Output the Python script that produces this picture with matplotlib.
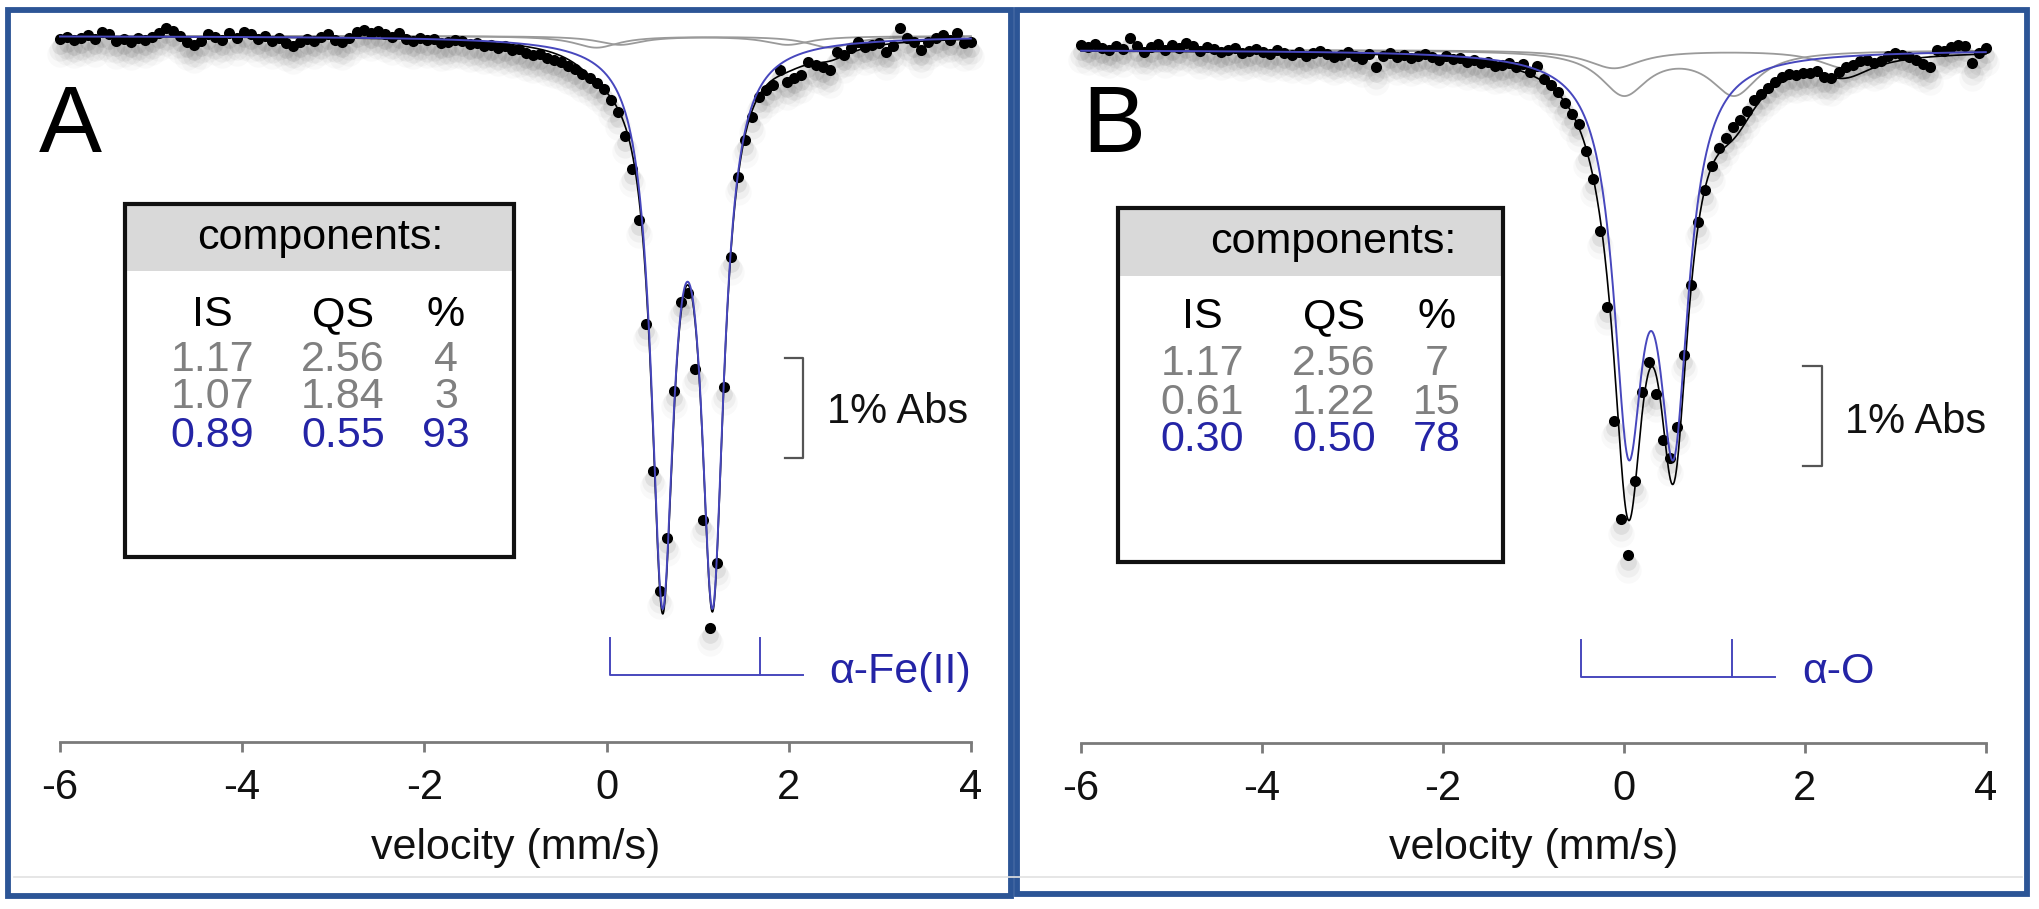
import numpy as np
import matplotlib
matplotlib.use('Agg')
import matplotlib.pyplot as plt
from matplotlib.patches import Rectangle
from matplotlib.transforms import offset_copy

plt.rcParams['font.family'] = ['Liberation Sans', 'DejaVu Sans']
plt.rcParams['axes.unicode_minus'] = False

# channel grid of the spectra (mm/s)
v_start, v_stop, n_chan = -6.0, 4.0, 130

abs_a = [0.03, 0.01, 0.04, 0.02, -0.01, 0.03,
         -0.04, -0.02,
         0.05, 0.03, 0.06, 0.02, 0.04,
         0.01, -0.03, -0.08, -0.05, 0.00,
         0.06, 0.09, 0.05,
         -0.02, 0.01, 0.04, -0.03, 0.02, -0.04,
         -0.02, 0.03, 0.00, 0.05,
         0.02, 0.07, 0.10, 0.06, 0.03, 0.05,
         0.01, -0.02, 0.04, 0.06,
         0.02, -0.04, -0.06, -0.03, -0.05,
         -0.02, 0.01, -0.03, 0.03, 0.05,
         0.02, 0.04, 0.03, 0.07, 0.06,
         0.04, 0.05, 0.08, 0.07, 0.10,
         0.09, 0.12, 0.10, 0.14, 0.13, 0.17,
         0.19, 0.18, 0.22, 0.24, 0.26, 0.30,
         0.33, 0.38, 0.42, 0.47, 0.53, 0.64, 0.76, 1.00, 1.33, 1.84, 2.88,
         4.35, 5.55, 5.02, 3.55, 2.66, 2.57, 3.33, 4.84, 5.92, 5.27, 3.51, 2.21, 1.41, 1.04,
         0.81, 0.61, 0.54, 0.49, 0.34, 0.46, 0.42, 0.39, 0.26, 0.29, 0.31, 0.34,
         0.16, 0.19, 0.12, 0.06, 0.11, 0.09, 0.07, 0.16, 0.10, -0.08,
         0.02, 0.06, 0.14, 0.06, 0.02, -0.01, 0.04, -0.03, 0.07, 0.06]

abs_b = [-0.05, -0.03, -0.06, -0.02, 0.00, -0.04,
         -0.01, -0.12, -0.04, 0.02, -0.03,
         -0.06, 0.00, -0.05, -0.02, -0.07,
         -0.04, 0.01, -0.03, -0.01, 0.02,
         0.00, -0.02, 0.03, 0.01, -0.01,
         0.02, 0.04, 0.00, 0.03, 0.05,
         0.02, 0.06, 0.03, 0.01, 0.04,
         0.07, 0.05, 0.02, 0.06, 0.09,
         0.04, 0.17, 0.06, 0.03, 0.07,
         0.05, 0.08, 0.06, 0.04, 0.07,
         0.10, 0.06, 0.09, 0.08, 0.12,
         0.10, 0.13, 0.12, 0.16, 0.15,
         0.13, 0.17,
         0.14, 0.22, 0.16, 0.29, 0.35, 0.42, 0.53, 0.64, 0.74, 1.01,
         1.29, 1.81, 2.57, 3.71, 4.69, 5.05, 4.31, 3.42, 3.12, 3.44,
         3.90, 4.08, 3.77, 3.05, 2.35, 1.72, 1.40, 1.16, 0.98, 0.88,
         0.77, 0.70, 0.61, 0.50, 0.44, 0.38, 0.32, 0.27, 0.24,
         0.25, 0.23, 0.23, 0.21, 0.27, 0.28, 0.22, 0.17, 0.15, 0.11,
         0.10, 0.13, 0.11, 0.06, 0.03, 0.05, 0.07, 0.10, 0.14, 0.17,
         0.00, 0.01, -0.03, -0.05, -0.04, 0.13, 0.03, -0.02]

# fit components (table values) + half widths / total area
is_a = [1.17, 1.07, 0.89]
qs_a = [2.56, 1.84, 0.55]
pct_a = [4, 3, 93]
hwhm_a = [0.30, 0.30, 0.15]
area_a = 5.43

is_b = [1.17, 0.61, 0.30]
qs_b = [2.56, 1.22, 0.50]
pct_b = [7, 15, 78]
hwhm_b = [0.36, 0.32, 0.20]
area_b = 5.8

# reference doublet markers
bracket_a = (0.04, 1.68)
bracket_b = (-0.47, 1.20)
ticks = [-6, -4, -2, 0, 2, 4]

W, H = 2040, 909
BLUE_LINE = '#4747BD'
BLUE_TXT = '#2424A6'
GRAY_TXT = '#808080'
FRAME = '#2C5596'


def doublet(v, i_s, q_s, pct, g, area):
    amp = pct / 100 * area / 2
    out = np.zeros_like(v)
    for c in (i_s - q_s / 2, i_s + q_s / 2):
        out += amp * g / np.pi / ((v - c) ** 2 + g ** 2)
    return out


def fx(px):
    return px / W


def fy(py):
    return 1 - py / H


fig = plt.figure(figsize=(W / 100, H / 100), dpi=100)
vel = np.linspace(v_start, v_stop, n_chan)
vv = np.linspace(v_start, v_stop, 2000)

panels = [
    dict(data=abs_a, iss=is_a, qss=qs_a, pct=pct_a, g=hwhm_a, area=area_a,
         ax=(20, 1000), xlim=(-6.439, 4.320), ylim=(8.54, -0.21), axis_y=7.057,
         br=bracket_a, br_y=(6.02, 6.39), br_end=2.16, br_lab='\u03b1-Fe(II)', br_lab_x=2.44, br_lab_y=6.36,
         bar_x=2.154, bar_tick=1.96, bar_y=(3.22, 4.22), bar_lab_x=2.42, bar_lab_y=3.76,
         xlab=(-1.0, 8.12)),
    dict(data=abs_b, iss=is_b, qss=qs_b, pct=pct_b, g=hwhm_b, area=area_b,
         ax=(1030, 2015), xlim=(-6.565, 4.323), ylim=(8.40, -0.35), axis_y=6.93,
         br=bracket_b, br_y=(5.90, 6.27), br_end=1.67, br_lab='\u03b1-O', br_lab_x=1.97, br_lab_y=6.22,
         bar_x=2.186, bar_tick=1.98, bar_y=(3.16, 4.16), bar_lab_x=2.444, bar_lab_y=3.72,
         xlab=(-1.0, 7.98)),
]

for p in panels:
    x0, x1 = p['ax']
    ax = fig.add_axes([fx(x0), fy(890), (x1 - x0) / W, 875 / H])
    ax.patch.set_alpha(0)
    ax.set_xlim(*p['xlim'])
    ax.set_ylim(*p['ylim'])

    comps = [doublet(vv, p['iss'][k], p['qss'][k], p['pct'][k], p['g'][k], p['area']) for k in range(3)]
    for c in comps[:2]:
        ax.plot(vv, c, color='#9A9A9A', lw=1.3, zorder=2)

    # soft drop shadow under the points
    for dy, ms, al in [(-15, 19, 0.025), (-11, 16, 0.04), (-7, 12, 0.07)]:
        sh = offset_copy(ax.transData, fig=fig, x=0, y=dy, units='dots')
        ax.plot(vel, p['data'], 'o', color='k', alpha=al, ms=ms, mew=0, transform=sh, zorder=3)
    ax.plot(vel, p['data'], 'o', color='k', ms=8, mew=0, zorder=4)

    ax.plot(vv, comps[0] + comps[1] + comps[2], color='k', lw=1.2, zorder=5)
    ax.plot(vv, comps[2], color=BLUE_LINE, lw=1.4, zorder=6)

    # axis
    for s in ['top', 'left', 'right']:
        ax.spines[s].set_visible(False)
    ax.spines['bottom'].set_position(('data', p['axis_y']))
    ax.spines['bottom'].set_bounds(-6, 4)
    ax.spines['bottom'].set_color('#7A7A7A')
    ax.spines['bottom'].set_linewidth(2.0)
    ax.set_yticks([])
    ax.set_xticks(ticks)
    ax.set_xticklabels([str(t) for t in ticks])
    ax.tick_params(axis='x', direction='out', length=7, width=2.0, color='#7A7A7A',
                   labelsize=30, pad=12, labelcolor='#111111')
    ax.text(p['xlab'][0], p['xlab'][1], 'velocity (mm/s)', ha='center', va='center',
            fontsize=31, color='#111111')

    # doublet marker
    b0, b1 = p['br']
    ya, yb = p['br_y']
    ax.plot([b0, b0, p['br_end']], [ya, yb, yb], color=BLUE_LINE, lw=1.4)
    ax.plot([b1, b1], [ya, yb], color=BLUE_LINE, lw=1.4)
    ax.text(p['br_lab_x'], p['br_lab_y'], p['br_lab'], color=BLUE_TXT, fontsize=31,
            ha='left', va='center')

    # 1% scale bar
    t0, t1 = p['bar_y']
    ax.plot([p['bar_tick'], p['bar_x'], p['bar_x'], p['bar_tick']], [t0, t0, t1, t1],
            color='#555555', lw=1.6)
    ax.text(p['bar_lab_x'], p['bar_lab_y'], '1% Abs', fontsize=30, ha='left', va='center',
            color='#111111')

# panel frames
for (l, r, b) in [(8, 1011, 896), (1017, 2027, 894)]:
    fig.add_artist(Rectangle((fx(l), fy(b)), (r - l) / W, (b - 10) / H, transform=fig.transFigure,
                             fill=False, ec=FRAME, lw=4.2))
fig.add_artist(plt.Line2D([fx(14), fx(2022)], [fy(877), fy(877)], transform=fig.transFigure,
                          color='#E2E2E2', lw=1.2))

fig.text(fx(39), fy(127), 'A', fontsize=68, ha='left', va='center')
fig.text(fx(1082), fy(127), 'B', fontsize=68, ha='left', va='center')

# component tables
tables = [
    dict(box=(125, 514, 204, 557, 271), head=320, cols=(212, 343, 446),
         rows=(315, 360, 397, 436), is_=is_a, qs=qs_a, pct=pct_a),
    dict(box=(1118, 1503, 208, 562, 276), head=1333, cols=(1202, 1334, 1437),
         rows=(317, 364, 403, 440), is_=is_b, qs=qs_b, pct=pct_b),
]
for t in tables:
    l, r, top, bot, hb = t['box']
    fig.add_artist(Rectangle((fx(l), fy(hb)), (r - l) / W, (hb - top) / H, transform=fig.transFigure,
                             fc='#D9D9D9', ec='none'))
    fig.add_artist(Rectangle((fx(l), fy(bot)), (r - l) / W, (bot - top) / H, transform=fig.transFigure,
                             fill=False, ec='#111111', lw=3.0))
    fig.text(fx(t['head']), fy((top + hb) / 2), 'components:', fontsize=31, ha='center', va='center')
    for txt, cx in zip(['IS', 'QS', '%'], t['cols']):
        fig.text(fx(cx), fy(t['rows'][0]), txt, fontsize=31, ha='center', va='center')
    for k in range(3):
        col = BLUE_TXT if k == 2 else GRAY_TXT
        vals = ['%.2f' % t['is_'][k], '%.2f' % t['qs'][k], '%d' % t['pct'][k]]
        for txt, cx in zip(vals, t['cols']):
            fig.text(fx(cx), fy(t['rows'][k + 1]), txt, fontsize=31, ha='center', va='center', color=col)

fig.savefig('out.png', dpi=100)
